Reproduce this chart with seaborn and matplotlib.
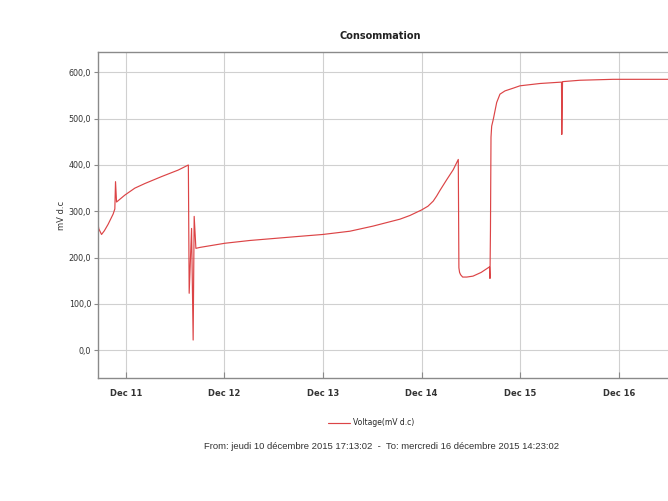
import matplotlib
matplotlib.use("Agg")
from matplotlib import pyplot as plt
import matplotlib.dates as mdates
from matplotlib.ticker import FuncFormatter
import pandas as pd
import seaborn as sns

# Voltage readings (time, mV d.c)
times = [
    "2015-12-10 17:13:02", "2015-12-10 17:25", "2015-12-10 18:05", "2015-12-10 18:46",
    "2015-12-10 19:41", "2015-12-10 20:54", "2015-12-10 21:19", "2015-12-10 21:29",
    "2015-12-10 21:44", "2015-12-10 23:45", "2015-12-11 02:11", "2015-12-11 04:38",
    "2015-12-11 08:42", "2015-12-11 12:44", "2015-12-11 15:13", "2015-12-11 15:25",
    "2015-12-11 16:00", "2015-12-11 16:23", "2015-12-11 16:38", "2015-12-11 17:03",
    "2015-12-11 18:01", "2015-12-12 00:07", "2015-12-12 06:12", "2015-12-12 18:23",
    "2015-12-12 23:59", "2015-12-13 06:33", "2015-12-13 12:10", "2015-12-13 18:44",
    "2015-12-13 21:10", "2015-12-14 00:01", "2015-12-14 01:33", "2015-12-14 02:50",
    "2015-12-14 03:40", "2015-12-14 04:28", "2015-12-14 06:06", "2015-12-14 07:43",
    "2015-12-14 08:56", "2015-12-14 09:05", "2015-12-14 09:15", "2015-12-14 09:30",
    "2015-12-14 10:00", "2015-12-14 11:00", "2015-12-14 12:31", "2015-12-14 14:30",
    "2015-12-14 16:32", "2015-12-14 16:39", "2015-12-14 16:46", "2015-12-14 16:54",
    "2015-12-14 17:04", "2015-12-14 17:28", "2015-12-14 18:17", "2015-12-14 19:05",
    "2015-12-14 20:18", "2015-12-14 22:20", "2015-12-14 23:57", "2015-12-15 04:50",
    "2015-12-15 10:04", "2015-12-15 10:08", "2015-12-15 10:19", "2015-12-15 14:34",
    "2015-12-15 22:36", "2015-12-16 14:23:02",
]
voltage = [
    272, 262, 250, 258,
    272, 294, 305, 364,
    320, 335, 350, 360,
    375, 389, 400, 123,
    263, 22, 289, 220,
    222, 231, 237, 246,
    250, 257, 268, 283,
    291, 303, 311, 322,
    333, 345, 368, 390,
    412, 178, 168, 163,
    158, 158, 160, 168,
    180, 155, 258, 460,
    484, 499, 535, 553,
    560, 566, 571, 576,
    579, 466, 580, 583,
    585, 585,
]

series_label = "Voltage(mV d.c)"
footer = "From: jeudi 10 décembre 2015 17:13:02  -  To: mercredi 16 décembre 2015 14:23:02"

df = pd.DataFrame({"time": pd.to_datetime(times, format="mixed"), "value": voltage})

sns.set_style("white")
plt.rcParams["font.family"] = ["DejaVu Sans"]

fig = plt.figure(figsize=(6.68, 5.01), dpi=100)
ax = fig.add_axes([0.1467, 0.2455, 0.868, 0.6507])

sns.lineplot(data=df, x="time", y="value", color="#dc4446", linewidth=0.85,
             ax=ax, label=series_label, legend=False)

ax.set_xlim(df["time"].iloc[0], df["time"].iloc[-1])
ax.set_ylim(-60, 644)
ax.set_yticks([0, 100, 200, 300, 400, 500, 600])
ax.yaxis.set_major_formatter(FuncFormatter(lambda v, p: f"{v:.1f}".replace(".", ",")))
ax.xaxis.set_major_locator(mdates.DayLocator())
ax.xaxis.set_major_formatter(mdates.DateFormatter("%b %d"))

ax.grid(True, color="#d0d0d0", linewidth=0.8)
for side in ["left", "bottom", "top"]:
    ax.spines[side].set_color("#8a8a8a")
    ax.spines[side].set_linewidth(1.0)
ax.spines["right"].set_visible(False)

ax.tick_params(axis="x", direction="in", length=4, width=0.8, color="#8a8a8a",
               labelsize=6, pad=8, bottom=True)
ax.tick_params(axis="y", direction="out", length=3, width=0.8, color="#8a8a8a",
               labelsize=5.8, pad=2, left=True)
for lbl in ax.get_xticklabels():
    lbl.set_fontweight("bold")
    lbl.set_color("#333333")
for lbl in ax.get_yticklabels():
    lbl.set_color("#333333")

ax.set_xlabel("")
ax.set_ylabel("mV d.c", fontsize=6, color="#333333", labelpad=2)

fig.text(0.569, 0.928, "Consommation", ha="center", va="center",
         fontsize=7, fontweight="bold", color="#222222")

handles, labels = ax.get_legend_handles_labels()
fig.legend(handles, labels, loc="center", bbox_to_anchor=(0.556, 0.156),
           frameon=False, fontsize=5.5, handlelength=2.8, handletextpad=0.5)

fig.text(0.571, 0.108, footer, ha="center", va="center",
         fontsize=6.8, color="#333333", family=["Liberation Sans", "DejaVu Sans"])

fig.savefig("out.png", dpi=100, facecolor="white")
